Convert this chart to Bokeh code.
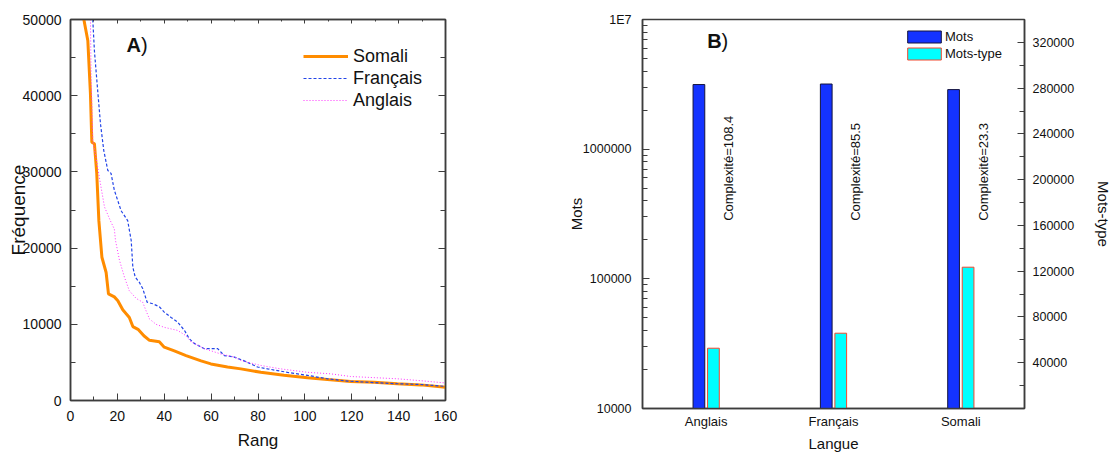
from math import pi
from bokeh.plotting import figure
from bokeh.models import (Range1d, FactorRange, LinearAxis, FixedTicker, Legend, LinearScale,
                          LegendItem, Label, ColumnDataSource, BasicTickFormatter)
from bokeh.transform import dodge
from bokeh.layouts import row
from bokeh.embed import file_html
from bokeh.resources import INLINE
from bokeh.core.properties import value

FONT = "Liberation Sans"
FRAME = "#3c3c3c"
TXT = "#111111"

# ---------------- Panel A data ----------------
rang_somali = [5.7, 7.4, 8.5, 9.1, 10.2, 11.2, 12.1, 13.4, 15.2, 16.2, 18.7, 20.2, 22.3,
               25.1, 26.6, 29.0, 31.3, 33.7, 37.9, 40.0, 44.3, 49.3, 55.7, 59.9, 67.0,
               72.7, 81.2, 91.1, 101.1, 109.6, 119.5, 129.5, 139.4, 149.4, 160.0]
freq_somali = [50000, 47200, 40300, 33900, 33700, 29800, 23600, 18800, 16800, 14000, 13600,
               13100, 11900, 10900, 9700, 9300, 8500, 7900, 7700, 7000, 6500, 5900, 5200,
               4800, 4400, 4150, 3700, 3300, 3000, 2750, 2500, 2400, 2200, 2050, 1750]

rang_francais = [9.5, 10.2, 11.7, 12.8, 14.2, 15.9, 17.3, 18.7, 21.6, 24.4, 25.9, 26.6, 27.6,
                 29.4, 30.8, 32.7, 35.1, 37.9, 40.0, 42.9, 45.7, 48.6, 50.7, 52.8, 57.1,
                 62.8, 65.6, 69.9, 74.1, 79.8, 84.1, 92.6, 101.1, 109.6, 118.2, 129.5,
                 139.4, 149.4, 160.0]
freq_francais = [50000, 45900, 40300, 36300, 32800, 30200, 29800, 27600, 24900, 23600, 21000,
                 17500, 16200, 15500, 14700, 12900, 12700, 12300, 11600, 10900, 10300, 9200,
                 8100, 7500, 6800, 6800, 5900, 5700, 5200, 4400, 4150, 3700, 3300, 2850,
                 2550, 2350, 2200, 2100, 1850]

rang_anglais = [8.5, 8.8, 9.5, 10.9, 12.8, 14.5, 17.0, 18.7, 19.2, 20.9, 23.0, 25.1, 28.0,
                30.8, 32.2, 33.7, 36.5, 40.0, 45.7, 49.3, 51.4, 57.1, 64.2, 69.9, 72.7,
                81.2, 89.7, 101.1, 111.0, 119.5, 129.5, 139.4, 149.4, 160.0]
freq_anglais = [50000, 42400, 34100, 31900, 28400, 25400, 23600, 22500, 21000, 18400, 16200,
                14400, 13400, 12900, 11800, 10700, 10000, 9600, 9200, 8500, 7700, 6800,
                6100, 5700, 5250, 4600, 4150, 3700, 3500, 3150, 3000, 2850, 2600, 2300]

series_names = ["Somali", "Français", "Anglais"]

# ---------------- Panel B data ----------------
langues = ["Anglais", "Français", "Somali"]
mots = [3150000, 3180000, 2880000]
mots_type = [52700, 65800, 123500]
complexite = [108.4, 85.5, 23.3]
mots_ticks = [10000, 100000, 1000000, 10000000]
mots_tick_labels = ["10000", "100000", "1000000", "1E7"]
types_ticks = [40000, 80000, 120000, 160000, 200000, 240000, 280000, 320000]


def style_axis(ax, major_in=7, minor_in=4, font_size="14px"):
    ax.axis_line_color = FRAME
    ax.axis_line_width = 1.5
    ax.major_tick_line_color = FRAME
    ax.minor_tick_line_color = FRAME
    ax.major_tick_in = major_in
    ax.major_tick_out = 0
    ax.minor_tick_in = minor_in
    ax.minor_tick_out = 0
    ax.major_label_text_font = FONT
    ax.major_label_text_font_size = font_size
    ax.major_label_text_color = TXT
    ax.axis_label_text_font = FONT
    ax.axis_label_text_font_style = "normal"
    ax.axis_label_text_color = TXT


def mute_labels(ax):
    # mirror axis: ticks only, labels not painted
    ax.major_label_text_font_size = "1px"
    ax.major_label_text_color = None
    ax.major_label_standoff = 0
    ax.axis_label = None


# ================= Panel A =================
p1 = figure(title=None, frame_width=375, frame_height=381,
            x_range=Range1d(0, 160), y_range=Range1d(0, 50000),
            output_backend="svg", toolbar_location=None,
            min_border_left=70, min_border_right=20, min_border_top=19, min_border_bottom=53)
p1.grid.visible = False
p1.outline_line_color = FRAME
p1.outline_line_width = 1.5

xa = p1.xaxis[0]
xa.ticker = FixedTicker(ticks=list(range(0, 161, 20)), minor_ticks=list(range(10, 160, 20)))
style_axis(xa, 7, 4, "14px")
xa.major_label_standoff = 10
xa.axis_label = "Rang"
xa.axis_label_text_font_size = "17px"
xa.axis_label_standoff = 7

ya = p1.yaxis[0]
ya.ticker = FixedTicker(ticks=list(range(0, 50001, 10000)),
                        minor_ticks=list(range(5000, 50000, 10000)))
style_axis(ya, 7, 5, "14px")
ya.major_label_standoff = 9
ya.axis_label = "Fréquence"
ya.axis_label_text_font_size = "19px"
ya.axis_label_standoff = -9

ra = LinearAxis(ticker=FixedTicker(ticks=list(range(0, 50001, 10000)),
                                   minor_ticks=list(range(5000, 50000, 10000))))
style_axis(ra, 7, 5)
mute_labels(ra)
p1.add_layout(ra, "right")

ta = LinearAxis(ticker=FixedTicker(ticks=list(range(0, 161, 20)),
                                   minor_ticks=list(range(10, 160, 20))))
style_axis(ta, 4, 2)
mute_labels(ta)
p1.add_layout(ta, "above")

r_som = p1.line(rang_somali, freq_somali, line_color="#FF8C00", line_width=3)
r_fra = p1.line(rang_francais, freq_francais, line_color="#2244E8", line_width=1.2,
                line_dash="3 2")
r_ang = p1.line(rang_anglais, freq_anglais, line_color="#FF33FF", line_width=1,
                line_dash="1 2")

leg1 = Legend(items=[LegendItem(label=series_names[0], renderers=[r_som]),
                     LegendItem(label=series_names[1], renderers=[r_fra]),
                     LegendItem(label=series_names[2], renderers=[r_ang])],
              location=(233, 289), padding=0, margin=0, spacing=0,
              glyph_width=45, glyph_height=22, label_height=22, label_standoff=5,
              label_text_font=FONT, label_text_font_size="18px", label_text_color=TXT,
              border_line_color=None, background_fill_alpha=0)
p1.add_layout(leg1, "center")

p1.add_layout(Label(x=56, y=356, x_units="screen", y_units="screen", text="A",
                    text_font=FONT, text_font_style="bold", text_font_size="20px",
                    text_baseline="alphabetic", text_color=TXT))
p1.add_layout(Label(x=70.5, y=356, x_units="screen", y_units="screen", text=")",
                    text_font=FONT, text_font_size="20px",
                    text_baseline="alphabetic", text_color=TXT))

# ================= Panel B =================
src = ColumnDataSource(dict(langue=langues, mots=mots, mots_type=mots_type,
                            label=[f"Complexité={c}" for c in complexite]))

p2 = figure(title=None, frame_width=382, frame_height=389,
            x_range=FactorRange(factors=langues), y_range=Range1d(1e4, 1e7),
            y_axis_type="log", output_backend="svg", toolbar_location=None,
            min_border_left=177, min_border_right=88, min_border_top=17, min_border_bottom=46)
p2.extra_y_ranges = {"types": Range1d(0, 340000)}
p2.extra_y_scales = {"types": LinearScale()}
p2.grid.visible = False
p2.outline_line_color = FRAME
p2.outline_line_width = 1.5

minor_log = [k * 10 ** d for d in range(4, 7) for k in range(2, 10)]
la = p2.yaxis[0]
la.ticker = FixedTicker(ticks=mots_ticks, minor_ticks=minor_log)
la.major_label_overrides = {t: s for t, s in zip(mots_ticks, mots_tick_labels)}
style_axis(la, 7, 5, "12.5px")
la.major_label_standoff = 11
la.axis_label = "Mots"
la.axis_label_text_font_size = "15px"
la.axis_label_standoff = -5

bx = p2.xaxis[0]
style_axis(bx, 0, 0, "13px")
bx.major_tick_line_color = None
bx.major_label_standoff = 5
bx.axis_label = "Langue"
bx.axis_label_text_font_size = "15px"
bx.axis_label_standoff = 3

ta2 = LinearAxis(y_range_name="types",
                 ticker=FixedTicker(ticks=types_ticks,
                                    minor_ticks=[t - 20000 for t in types_ticks]),
                 formatter=BasicTickFormatter(use_scientific=False))
style_axis(ta2, 7, 5, "12.5px")
ta2.major_label_standoff = 8
ta2.axis_label = "Mots-type"
ta2.axis_label_text_font_size = "15px"
ta2.axis_label_standoff = 18
p2.add_layout(ta2, "right")

r_mots = p2.vbar(x=dodge("langue", -0.057, range=p2.x_range), top="mots", bottom=1e4,
                 width=0.092, source=src, fill_color="#1433FF", line_color="#14143C",
                 line_width=1)
r_types = p2.vbar(x=dodge("langue", 0.057, range=p2.x_range), top="mots_type", bottom=0,
                  width=0.092, source=src, y_range_name="types", fill_color="#00FFFF",
                  line_color="#F2482E", line_width=1)

p2.text(x=dodge("langue", 0.175, range=p2.x_range), y=2.8e5, text="label", source=src,
        angle=pi / 2, text_align="left", text_baseline="middle",
        text_font=value(FONT), text_font_size="13px", text_color=TXT)

leg2 = Legend(items=[LegendItem(label="Mots", renderers=[r_mots]),
                     LegendItem(label="Mots-type", renderers=[r_types])],
              location=(261, 347), padding=0, margin=0, spacing=2,
              glyph_width=42, glyph_height=15, label_height=15, label_standoff=0,
              label_text_font=FONT, label_text_font_size="13px", label_text_color=TXT,
              border_line_color=None, background_fill_alpha=0)
p2.add_layout(leg2, "center")

p2.add_layout(Label(x=64.7, y=367.5, x_units="screen", y_units="screen", text="B",
                    text_font=FONT, text_font_style="bold", text_font_size="20px",
                    text_baseline="alphabetic", text_color=TXT))
p2.add_layout(Label(x=79, y=367.5, x_units="screen", y_units="screen", text=")",
                    text_font=FONT, text_font_size="20px",
                    text_baseline="alphabetic", text_color=TXT))

layout = row(p1, p2)
open("out.html", "w").write(file_html(layout, INLINE))
